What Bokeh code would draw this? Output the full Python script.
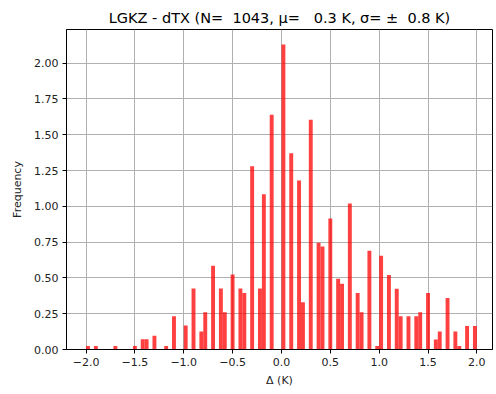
from bokeh.plotting import figure
from bokeh.models import Range1d, FixedTicker, CustomJSTickFormatter, ColumnDataSource
from bokeh.embed import file_html
from bokeh.resources import INLINE

# Histogram (density) of Δ = LGKZ - dTX, bins of 0.04 K
bin_width = 0.04
bin_center = [-1.98, -1.90, -1.70, -1.50, -1.42, -1.38, -1.30, -1.18, -1.10, -0.98,
              -0.90, -0.82, -0.78, -0.70, -0.62, -0.58, -0.50, -0.42, -0.38, -0.30,
              -0.22, -0.18, -0.10, 0.02, 0.10, 0.18, 0.22, 0.30, 0.38, 0.42,
              0.50, 0.58, 0.62, 0.70, 0.78, 0.82, 0.90, 0.98, 1.02, 1.10,
              1.18, 1.22, 1.30, 1.38, 1.42, 1.50, 1.58, 1.62, 1.70, 1.78,
              1.82, 1.90, 1.98]
density = [0.024, 0.024, 0.024, 0.024, 0.072, 0.072, 0.096, 0.024, 0.232, 0.168,
           0.426, 0.125, 0.260, 0.585, 0.426, 0.260, 0.523, 0.426, 0.395, 1.280,
           0.426, 1.085, 1.640, 2.130, 1.370, 1.180, 0.330, 1.605, 0.745, 0.720,
           0.915, 0.495, 0.460, 1.020, 0.395, 0.260, 0.690, 0.024, 0.655, 0.520,
           0.425, 0.232, 0.232, 0.232, 0.260, 0.395, 0.070, 0.125, 0.360, 0.125,
           0.024, 0.165, 0.165]

x_ticks = [-2.0, -1.5, -1.0, -0.5, 0.0, 0.5, 1.0, 1.5, 2.0]
y_ticks = [0.0, 0.25, 0.5, 0.75, 1.0, 1.25, 1.5, 1.75, 2.0]
NB = "\u00a0"
title_text = ("LGKZ - dTX (N=" + NB * 2 + "1043, μ=" + NB * 3 + "0.3 K, σ=" + NB + "±" + NB * 2 + "0.8 K)")

src = ColumnDataSource(dict(x=bin_center, top=density))

p = figure(width=496, height=394, output_backend="svg", toolbar_location=None,
           x_range=Range1d(-2.2, 2.16), y_range=Range1d(0, 2.235),
           min_border_left=66, min_border_right=4, min_border_top=29, min_border_bottom=45)

p.vbar(x="x", top="top", bottom=0, width=bin_width, source=src,
       fill_color="#ff0000", fill_alpha=0.75, line_color=None)

p.title.text = title_text
p.title.align = "center"
p.title.text_font = "DejaVu Sans"
p.title.text_font_size = "14.5px"
p.title.text_font_style = "normal"
p.title.text_color = "#000000"
p.title.offset = 0
p.title.standoff = 7

p.outline_line_color = "#000000"
p.outline_line_width = 1
p.outline_line_alpha = 1

for ax in (p.xaxis[0], p.yaxis[0]):
    ax.axis_line_color = "#000000"
    ax.major_tick_line_color = "#000000"
    ax.major_tick_in = 0
    ax.major_tick_out = 4
    ax.minor_tick_line_color = None
    ax.major_label_text_font = "DejaVu Sans"
    ax.major_label_text_font_size = "11px"
    ax.major_label_text_color = "#222222"
    ax.axis_label_text_font = "DejaVu Sans"
    ax.axis_label_text_font_size = "11px"
    ax.axis_label_text_font_style = "normal"
    ax.axis_label_text_color = "#222222"

p.xaxis.ticker = FixedTicker(ticks=x_ticks)
p.yaxis.ticker = FixedTicker(ticks=y_ticks)
p.xaxis.formatter = CustomJSTickFormatter(code="return tick.toFixed(1).replace('-', '\u2212');")
p.yaxis.formatter = CustomJSTickFormatter(code="return tick.toFixed(2);")
p.xaxis.axis_label = "Δ (K)"
p.yaxis.axis_label = "Frequency"
p.xaxis.major_label_standoff = 4
p.yaxis.major_label_standoff = 4
p.xaxis.axis_label_standoff = 5
p.yaxis.axis_label_standoff = 7

p.xgrid.grid_line_color = "#b0b0b0"
p.ygrid.grid_line_color = "#b0b0b0"
p.xgrid.grid_line_width = 1
p.ygrid.grid_line_width = 1
p.xgrid.ticker = FixedTicker(ticks=x_ticks)
p.ygrid.ticker = FixedTicker(ticks=y_ticks)

p.background_fill_color = "#ffffff"
p.border_fill_color = "#ffffff"

open("out.html", "w").write(file_html(p, INLINE))
